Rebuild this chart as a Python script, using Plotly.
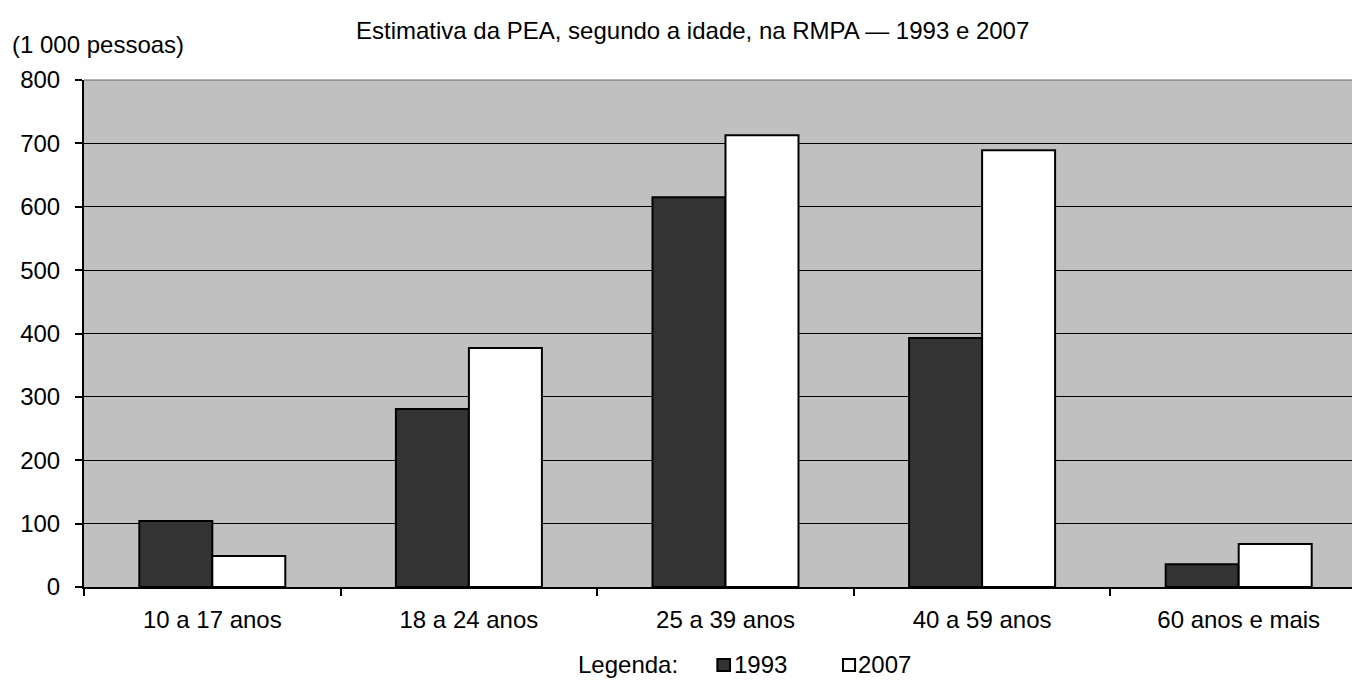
import plotly.graph_objects as go

categories = ["10 a 17 anos", "18 a 24 anos", "25 a 39 anos", "40 a 59 anos", "60 anos e mais"]
values_1993 = [104, 281, 615, 393, 36]
values_2007 = [49, 377, 713, 689, 68]
y_ticks = [0, 100, 200, 300, 400, 500, 600, 700, 800]
series_names = ["1993", "2007"]
series_colors = ["#333333", "#ffffff"]

FONT = "Liberation Sans, Arial, sans-serif"
FS = 24

fig = go.Figure()
for name, vals, col in zip(series_names, [values_1993, values_2007], series_colors):
    fig.add_trace(go.Bar(name=name, x=categories, y=vals,
                         marker=dict(color=col, line=dict(color="black", width=2))))

# manual legend
legend_sq = [(0.4995, 0.5095), (0.5986, 0.6081)]
legend_txt_x = [0.5118, 0.6096]
shapes = [
    # top border of the plot area (grey, as in the reference)
    dict(type="line", xref="paper", yref="paper", x0=0, x1=1, y0=1, y1=1,
         line=dict(color="#666666", width=1), layer="above"),
]
annotations = [
    dict(text="Estimativa da PEA, segundo a idade, na RMPA — 1993 e 2007",
         xref="paper", yref="paper", x=0.4802, y=1.0986, xanchor="center", yanchor="middle",
         showarrow=False, font=dict(size=FS)),
    dict(text="(1 000 pessoas)", xref="paper", yref="paper", x=-0.058, y=1.071,
         xanchor="left", yanchor="middle", showarrow=False, font=dict(size=FS)),
    dict(text="Legenda:", xref="paper", yref="paper", x=0.3880, y=-0.1538,
         xanchor="left", yanchor="middle", showarrow=False, font=dict(size=FS)),
]
for (x0, x1), tx, name, col in zip(legend_sq, legend_txt_x, series_names, series_colors):
    shapes.append(dict(type="rect", xref="paper", yref="paper", x0=x0, x1=x1,
                       y0=-0.1657, y1=-0.142, fillcolor=col,
                       line=dict(color="black", width=2)))
    annotations.append(dict(text=name, xref="paper", yref="paper", x=tx, y=-0.1538,
                            xanchor="left", yanchor="middle", showarrow=False,
                            font=dict(size=FS), xshift=-1))

fig.update_layout(
    width=1352, height=680,
    margin=dict(l=84, r=0, t=80, b=93, autoexpand=False),
    plot_bgcolor="#c0c0c0", paper_bgcolor="white",
    barmode="group", bargap=0.431, bargroupgap=0,
    font=dict(family=FONT, size=FS, color="black"),
    showlegend=False,
    shapes=shapes,
    annotations=annotations,
)
# the reference's plot area runs slightly past the right edge of the image
fig.update_xaxes(type="category", range=[-0.5, 4.4416], showline=True, linecolor="black", linewidth=2,
                 ticks="outside", tickson="boundaries", ticklen=7, tickwidth=2, tickcolor="black",
                 showgrid=False, ticklabelstandoff=10, automargin=False)
fig.update_yaxes(range=[0, 800], tickvals=y_ticks, showline=True, linecolor="black", linewidth=2,
                 ticks="outside", ticklen=7, tickwidth=2, tickcolor="black",
                 showgrid=True, gridcolor="black", gridwidth=1, zeroline=False,
                 ticklabelstandoff=10, automargin=False)

fig.write_html("out.html", config={"displayModeBar": False},
               post_script="document.body.style.margin='0';document.body.style.overflow='hidden';")
